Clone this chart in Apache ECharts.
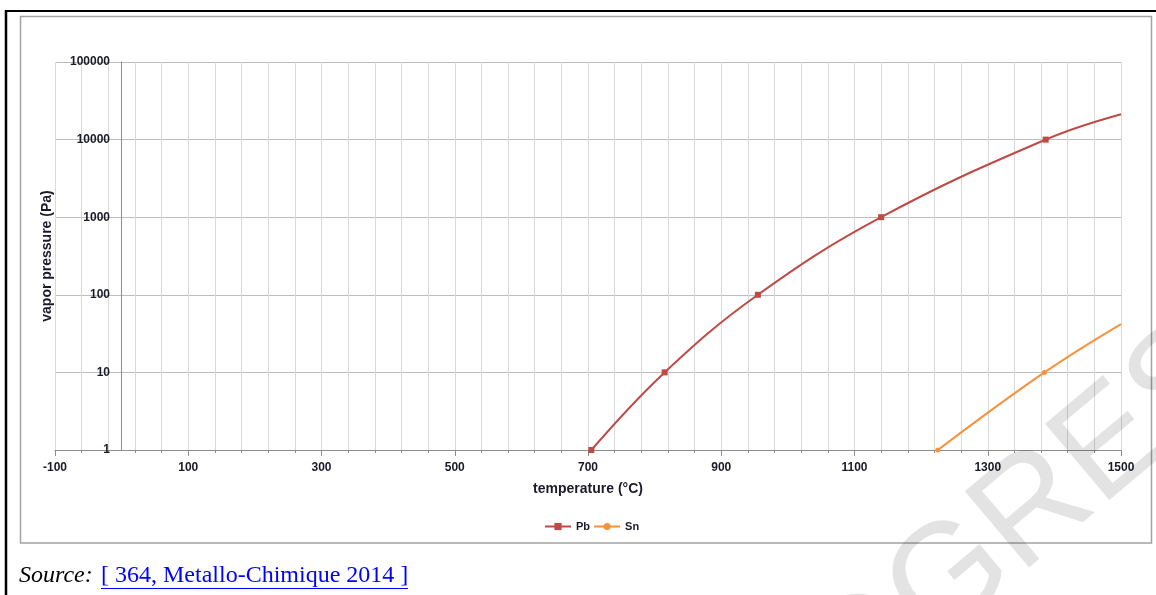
<!DOCTYPE html>
<html>
<head>
<meta charset="utf-8">
<script src="https://cdn.jsdelivr.net/npm/echarts@6/dist/echarts.min.js"></script>
<style>
html,body{margin:0;padding:0;background:#fff;}
#c{width:1156px;height:595px;}
</style>
</head>
<body>
<div id="c"></div>
<script>
// ---- data ----
const xLabelValues = [-100, 100, 300, 500, 700, 900, 1100, 1300, 1500];
const yLabelValues = [1, 10, 100, 1000, 10000, 100000];
const seriesNames = ['Pb', 'Sn'];
const pbTemps = [705, 815, 955, 1140, 1387, 1500];
const pbPressures = [1, 10, 100, 1000, 10000, 21200];
const snTemps = [1225, 1385, 1500];
const snPressures = [1, 10, 42];
const xAxisName = 'temperature (°C)';
const yAxisName = 'vapor pressure (Pa)';
const sourceLabel = 'Source:';
const sourceLink = '[ 364, Metallo-Chimique 2014 ]';
const watermarkText = 'PROGRESS';

// minor grid every 40 °C from -100 to 1500
const xMinorValues = [];
for (let v = -100; v <= 1500; v += 40) xMinorValues.push(v);

function buildData(xs, ys) {
  return xs.map((x, i) => {
    const item = { value: [x, ys[i]] };
    if (i === xs.length - 1) { item.symbol = 'none'; }
    return item;
  });
}

const FONT = '"Liberation Sans", Arial, sans-serif';
const labelStyle = { fontFamily: FONT, fontSize: 12, fontWeight: 'bold', color: '#1a1a2a' };

const chart = echarts.init(document.getElementById('c'), null, { renderer: 'canvas' });
chart.setOption({
  animation: false,
  backgroundColor: '#ffffff',
  grid: { left: 55, right: 35, top: 62, bottom: 145, containLabel: false, outerBoundsMode: 'none' },
  xAxis: [
    {
      type: 'value', min: -100, max: 1500, position: 'bottom',
      name: xAxisName, nameLocation: 'middle', nameGap: 32,
      nameTextStyle: { fontFamily: FONT, fontSize: 14, fontWeight: 'bold', color: '#1a1a2a' },
      axisLine: { show: true, onZero: false, lineStyle: { color: '#8c8c8c', width: 1 } },
      axisTick: { show: true, customValues: xMinorValues, length: 3, lineStyle: { color: '#8c8c8c' } },
      axisLabel: Object.assign({ customValues: xLabelValues, margin: 12, formatter: v => String(v) }, labelStyle),
      splitLine: { show: true, lineStyle: { color: '#d9d9d9', width: 1 } }
    },
    {
      type: 'value', min: -100, max: 1500, position: 'bottom',
      axisLine: { show: false, onZero: false },
      axisTick: { show: true, customValues: xLabelValues, length: 6, lineStyle: { color: '#8c8c8c' } },
      axisLabel: { show: false },
      splitLine: { show: false }
    }
  ],
  yAxis: {
    type: 'log', logBase: 10, min: 1, max: 100000,
    name: yAxisName, nameLocation: 'middle', nameRotate: 90, nameGap: 1,
    nameTextStyle: { fontFamily: FONT, fontSize: 14, fontWeight: 'bold', color: '#1a1a2a' },
    axisLine: { show: true, onZero: true, onZeroAxisIndex: 0, lineStyle: { color: '#8c8c8c', width: 1 } },
    axisTick: { show: false },
    axisLabel: Object.assign({
      margin: -55,
      formatter: v => String(Math.round(v))
    }, labelStyle),
    splitLine: { show: true, lineStyle: { color: '#bdbdbd', width: 1 } }
  },
  legend: {
    data: seriesNames,
    top: 516, left: 539,
    itemWidth: 26, itemHeight: 9, itemGap: 3,
    textStyle: { fontFamily: FONT, fontSize: 11, fontWeight: 'bold', color: '#1a1a2a' }
  },
  series: [
    {
      name: seriesNames[0], type: 'line', smooth: 0.4,
      data: buildData(pbTemps, pbPressures),
      symbol: 'rect', symbolSize: 6,
      itemStyle: { color: '#bf4a45' },
      lineStyle: { color: '#bf4a45', width: 2 },
      z: 5
    },
    {
      name: seriesNames[1], type: 'line', smooth: 0.4,
      data: buildData(snTemps, snPressures),
      symbol: 'circle', symbolSize: 5,
      itemStyle: { color: '#f7923a' },
      lineStyle: { color: '#f7923a', width: 2 },
      z: 5
    }
  ],
  graphic: [
    { type: 'line', silent: true, z: -10, shape: { x1: 6, y1: 10, x2: 6, y2: 595 }, style: { stroke: '#000', lineWidth: 2.5 } },
    { type: 'line', silent: true, z: -10, shape: { x1: 5, y1: 11, x2: 1156, y2: 11 }, style: { stroke: '#000', lineWidth: 2 } },
    { type: 'rect', silent: true, z: -10, shape: { x: 20.5, y: 16.5, width: 1131, height: 526.5 }, style: { fill: 'none', stroke: '#a3a3a3', lineWidth: 1.5 } },
    { type: 'text', silent: true, x: 19, y: 576, style: { text: sourceLabel, fontFamily: '"Liberation Serif", "Times New Roman", serif', fontStyle: 'italic', fontSize: 24, fill: '#000', verticalAlign: 'middle' } },
    { type: 'text', silent: true, x: 101, y: 576, style: { text: sourceLink, fontFamily: '"Liberation Serif", "Times New Roman", serif', fontSize: 24, fill: '#0000ff', verticalAlign: 'middle' } },
    { type: 'line', silent: true, shape: { x1: 101, y1: 588.5, x2: 408, y2: 588.5 }, style: { stroke: '#0000ff', lineWidth: 1 } },
    { type: 'text', silent: true, z: 100, x: 982, y: 555, rotation: 0.70,
      style: { text: watermarkText, fontFamily: FONT, fontSize: 145, fill: 'rgba(0,0,0,0.11)', align: 'center', verticalAlign: 'middle' } }
  ]
});
</script>
</body>
</html>
